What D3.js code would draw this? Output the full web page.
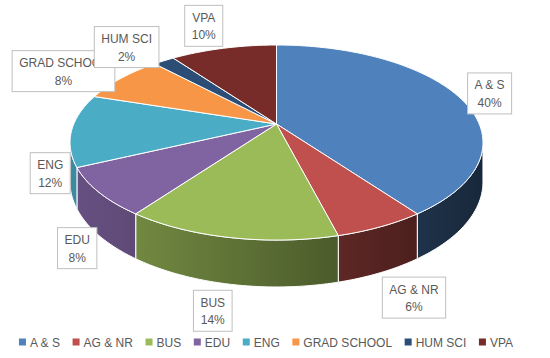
<!DOCTYPE html>
<html>
<head>
<script src="https://d3js.org/d3.v7.min.js"></script>
<style>
  body { margin: 0; background: #fff; font-family: "Liberation Sans", Arial, sans-serif; }
  .lbl text, .legend text { fill: #595959; font-size: 12px; }
  .lbl rect { fill: #fff; stroke: #bfbfbf; stroke-width: 1; }
</style>
</head>
<body>
<div id="chart"></div>
<script>
const categories = ["A & S", "AG & NR", "BUS", "EDU", "ENG", "GRAD SCHOOL", "HUM SCI", "VPA"];
const shares = [40, 6, 14, 8, 12, 8, 2, 10];
const colors = ["#4F81BD", "#C0504D", "#9BBB59", "#8064A2", "#4BACC6", "#F79646", "#2C4D75", "#772C2A"];

const width = 550, height = 358;
// perspective disc: centre, radii, perspective strength, wall depth
const cx = 276.5, cy = 124, rx = 202.7, ry = 94, k = 0.19, depth = 38;

function proj(theta, r = 1, down = 0) {
  const X = r * Math.sin(theta), Z = r * Math.cos(theta), w = 1 + k * Z;
  return [cx + rx * X / w, cy - ry * Z / w + down * depth / w];
}
function arcPts(a0, a1, down) {
  const n = Math.max(2, Math.ceil(Math.abs(a1 - a0) / 0.015));
  return d3.range(n + 1).map(i => proj(a0 + (a1 - a0) * i / n, 1, down));
}

const svg = d3.select("#chart").append("svg")
  .attr("width", width).attr("height", height);

const arcs = d3.pie().sort(null).value(d => d)(shares);
const defs = svg.append("defs");

// wall gradients (lit from the left)
arcs.forEach((a, i) => {
  const g = defs.append("linearGradient").attr("id", "wall" + i)
    .attr("gradientUnits", "userSpaceOnUse")
    .attr("x1", cx - rx - 4).attr("x2", cx + rx + 4).attr("y1", 0).attr("y2", 0);
  [0, 0.25, 0.5, 0.75, 1].forEach(t => {
    const X = t * 2 - 1, f = 0.56 - 0.25 * X;
    const c = d3.rgb(colors[i]);
    g.append("stop").attr("offset", t)
      .attr("stop-color", d3.rgb(c.r * f, c.g * f, c.b * f).formatHex());
  });
});

// front walls
const thR = Math.acos(-k), thL = 2 * Math.PI - thR;
const line = d3.line();
arcs.forEach((a, i) => {
  const a0 = Math.max(a.startAngle, thR), a1 = Math.min(a.endAngle, thL);
  if (a1 <= a0) return;
  const pts = arcPts(a0, a1, 0).concat(arcPts(a1, a0, 1));
  svg.append("path").attr("d", line(pts) + "Z")
    .attr("fill", `url(#wall${i})`)
    .attr("stroke", "#fff").attr("stroke-width", 1).attr("stroke-linejoin", "round");
});

// top faces
arcs.forEach((a, i) => {
  const pts = [[cx, cy]].concat(arcPts(a.startAngle, a.endAngle, 0));
  svg.append("path").attr("d", line(pts) + "Z")
    .attr("fill", colors[i])
    .attr("stroke", "#fff").attr("stroke-width", 1).attr("stroke-linejoin", "round");
});

// data labels
const labelNudge = [[-3, 2], [7, 45], [-5, 44], [20, 40], [20, 42], [-30, 1], [-18, -3], [-11, -10]];
arcs.forEach((a, i) => {
  const mid = (a.startAngle + a.endAngle) / 2;
  const p = proj(mid, 1.2, 0);
  const g = svg.append("g").attr("class", "lbl")
    .attr("transform", `translate(${p[0] + labelNudge[i][0]},${p[1] + labelNudge[i][1]})`);
  const rect = g.append("rect");
  const t1 = g.append("text").attr("text-anchor", "middle").attr("y", -4).text(categories[i]);
  const t2 = g.append("text").attr("text-anchor", "middle").attr("y", 13.5).text(shares[i] + "%");
  const w = Math.max(t1.node().getComputedTextLength(), t2.node().getComputedTextLength()) + 14;
  rect.attr("x", -w / 2).attr("y", -20.5).attr("width", w).attr("height", 41);
});

// legend
const legend = svg.append("g").attr("class", "legend");
const gap = 12.6;
let x = 0;
categories.forEach((c, i) => {
  const g = legend.append("g");
  g.append("rect").attr("x", 0).attr("y", -3.5).attr("width", 7).attr("height", 7).attr("fill", colors[i]);
  const t = g.append("text").attr("x", 11).attr("y", 4.5).text(c);
  const tw = t.node().getComputedTextLength();
  g.attr("transform", `translate(${x},0)`);
  x += 11 + tw + gap;
});
const total = x - gap;
legend.attr("transform", `translate(${266 - total / 2},342)`);
</script>
</body>
</html>
